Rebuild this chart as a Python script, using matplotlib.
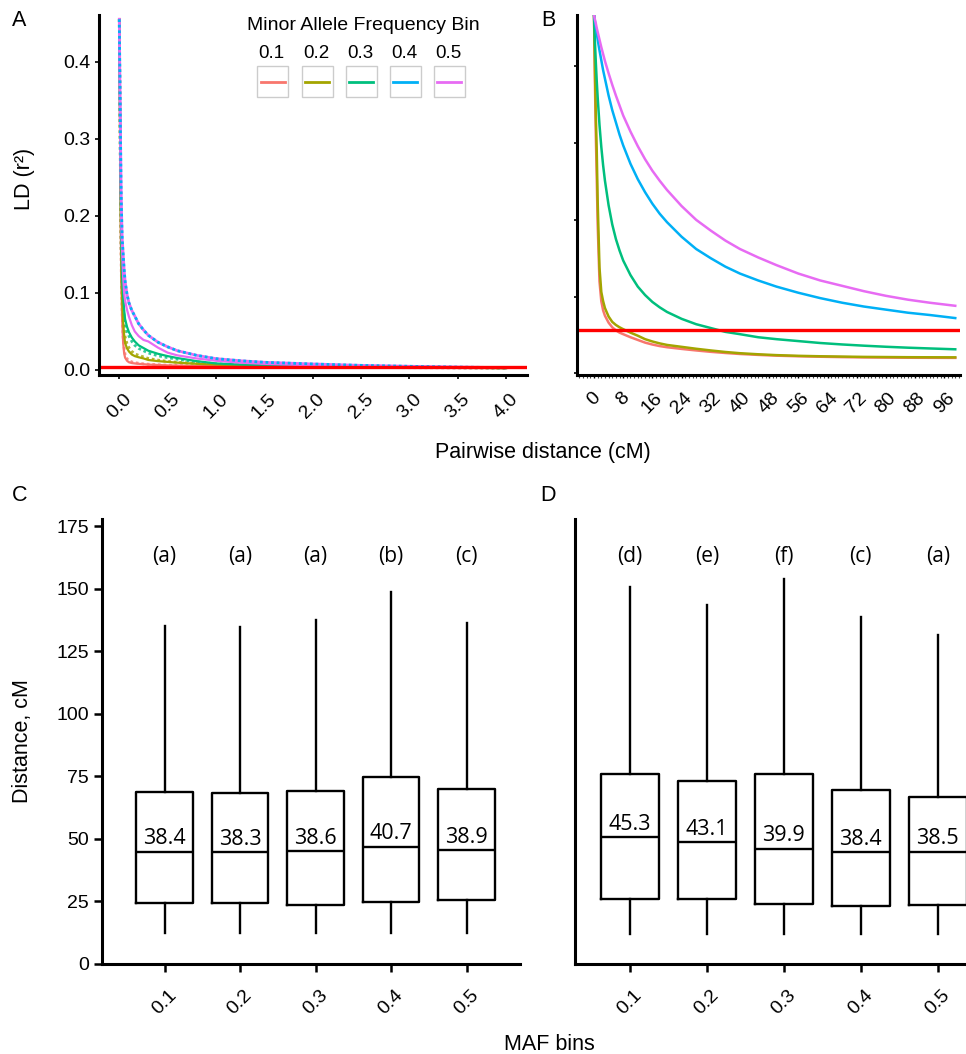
import matplotlib
matplotlib.use("Agg")
import matplotlib.pyplot as plt
from matplotlib.patches import Rectangle
from matplotlib.lines import Line2D
from matplotlib.ticker import MultipleLocator

plt.rcParams['font.family'] = ['Liberation Sans', 'DejaVu Sans']

maf_bins = ['0.1', '0.2', '0.3', '0.4', '0.5']
bin_colors = ['#F8766D', '#A3A500', '#00BF7D', '#00B0F6', '#E76BF3']

# ---- panel A: LD decay, 0-4 cM (solid = fitted, dotted = observed)
dist_a = [0, 0.01, 0.02, 0.03, 0.04, 0.05, 0.06, 0.08, 0.1, 0.13, 0.16, 0.2, 0.25,
          0.3, 0.4, 0.5, 0.6, 0.8, 1.0, 1.25, 1.5, 2.0, 2.5, 3.0, 3.5, 4.0]
fit_a_01 = [0.455, 0.26, 0.12, 0.065, 0.035, 0.022, 0.016, 0.012, 0.010, 0.009, 0.0085, 0.008, 0.0075,
            0.007, 0.0065, 0.006, 0.0057, 0.0052, 0.005, 0.0047, 0.0043, 0.0038, 0.0033, 0.003, 0.0027, 0.0025]
obs_a_01 = [0.455, 0.27, 0.13, 0.072, 0.042, 0.028, 0.02, 0.0145, 0.012, 0.0105, 0.0095, 0.0088, 0.008,
            0.0075, 0.0068, 0.0062, 0.0058, 0.0053, 0.005, 0.0047, 0.0043, 0.0038, 0.0033, 0.003, 0.0027, 0.0025]
fit_a_02 = [0.455, 0.28, 0.14, 0.09, 0.062, 0.045, 0.035, 0.028, 0.024, 0.02, 0.018, 0.0165, 0.015,
            0.013, 0.0115, 0.0105, 0.0095, 0.008, 0.007, 0.006, 0.0055, 0.0045, 0.004, 0.0035, 0.003, 0.0025]
obs_a_02 = [0.455, 0.29, 0.15, 0.1, 0.07, 0.052, 0.043, 0.034, 0.029, 0.024, 0.021, 0.019, 0.017,
            0.015, 0.0128, 0.0112, 0.01, 0.0085, 0.0073, 0.0063, 0.0057, 0.0047, 0.0041, 0.0036, 0.0031, 0.0027]
fit_a_03 = [0.455, 0.3, 0.17, 0.12, 0.095, 0.078, 0.066, 0.056, 0.049, 0.042, 0.037, 0.032, 0.0285,
            0.025, 0.021, 0.018, 0.0155, 0.0115, 0.0085, 0.007, 0.006, 0.005, 0.004, 0.0035, 0.003, 0.0025]
obs_a_03 = [0.455, 0.29, 0.16, 0.11, 0.085, 0.07, 0.06, 0.05, 0.044, 0.037, 0.032, 0.028, 0.025,
            0.022, 0.0185, 0.016, 0.014, 0.0105, 0.008, 0.0067, 0.0058, 0.0048, 0.0039, 0.0034, 0.0029, 0.0025]
fit_a_04 = [0.455, 0.33, 0.22, 0.17, 0.15, 0.13, 0.115, 0.098, 0.087, 0.077, 0.07, 0.06, 0.052,
            0.045, 0.036, 0.03, 0.025, 0.019, 0.0147, 0.012, 0.010, 0.0078, 0.006, 0.0048, 0.0038, 0.003]
fit_a_05 = [0.455, 0.32, 0.2, 0.15, 0.12, 0.1, 0.09, 0.078, 0.069, 0.058, 0.05, 0.044, 0.039,
            0.037, 0.029, 0.0225, 0.019, 0.015, 0.012, 0.0095, 0.008, 0.006, 0.005, 0.004, 0.0035, 0.003]
threshold_a = 0.004

# ---- panel B: LD decay, 0-100 cM
dist_b = [0, 0.25, 0.5, 0.75, 1, 1.5, 2, 2.5, 3, 4, 5, 6, 7, 8, 10, 12, 14, 16, 18, 20,
          24, 28, 32, 36, 40, 45, 50, 56, 62, 68, 74, 80, 86, 92, 99]
ld_b_01 = [0.467, 0.38, 0.31, 0.255, 0.195, 0.12, 0.094, 0.082, 0.075, 0.066, 0.06, 0.056, 0.053, 0.051,
           0.047, 0.0435, 0.04, 0.0375, 0.0355, 0.034, 0.0318, 0.0298, 0.028, 0.0265, 0.0252, 0.024,
           0.023, 0.0222, 0.0216, 0.0211, 0.0207, 0.0205, 0.0203, 0.0202, 0.0201]
ld_b_02 = [0.467, 0.40, 0.335, 0.29, 0.225, 0.138, 0.106, 0.094, 0.085, 0.074, 0.067, 0.063, 0.06, 0.0575,
           0.053, 0.049, 0.0445, 0.0415, 0.039, 0.037, 0.0345, 0.032, 0.0298, 0.0278, 0.0262, 0.0248,
           0.0237, 0.0228, 0.0222, 0.0218, 0.0214, 0.0212, 0.021, 0.0209, 0.0208]
ld_b_03 = [0.467, 0.432, 0.405, 0.381, 0.36, 0.324, 0.295, 0.271, 0.251, 0.219, 0.194, 0.175, 0.16, 0.147,
           0.128, 0.113, 0.102, 0.093, 0.086, 0.08, 0.071, 0.064, 0.059, 0.054, 0.051, 0.047,
           0.0445, 0.042, 0.0395, 0.0376, 0.036, 0.0346, 0.0334, 0.0324, 0.0313]
ld_b_04 = [0.467, 0.459, 0.451, 0.443, 0.435, 0.421, 0.408, 0.395, 0.384, 0.362, 0.343, 0.327, 0.311, 0.297,
           0.273, 0.253, 0.236, 0.221, 0.208, 0.197, 0.178, 0.162, 0.15, 0.139, 0.13, 0.121,
           0.113, 0.105, 0.098, 0.092, 0.087, 0.083, 0.079, 0.076, 0.072]
ld_b_05 = [0.467, 0.461, 0.456, 0.45, 0.445, 0.435, 0.425, 0.416, 0.407, 0.391, 0.376, 0.362, 0.349, 0.336,
           0.315, 0.296, 0.279, 0.264, 0.251, 0.239, 0.218, 0.2, 0.186, 0.173, 0.162, 0.151,
           0.141, 0.13, 0.121, 0.114, 0.107, 0.101, 0.096, 0.092, 0.088]
threshold_b = 0.057

# ---- panels C and D: distance to LD threshold per MAF bin
c_whislo = [12.2, 12.2, 12.2, 12.2, 12.2]
c_q1 = [24.4, 24.4, 23.5, 24.8, 25.5]
c_med = [44.9, 44.7, 45.0, 46.9, 45.4]
c_q3 = [68.8, 68.4, 69.2, 74.7, 69.9]
c_whishi = [135.1, 134.6, 137.4, 148.7, 136.4]
c_means = ['38.4', '38.3', '38.6', '40.7', '38.9']
c_groups = ['(a)', '(a)', '(a)', '(b)', '(c)']

d_whislo = [12.0, 12.0, 12.0, 12.0, 12.0]
d_q1 = [25.8, 25.9, 23.8, 23.2, 23.5]
d_med = [50.6, 48.7, 46.0, 44.6, 44.9]
d_q3 = [75.8, 73.2, 75.8, 69.6, 66.6]
d_whishi = [150.5, 143.6, 153.8, 138.7, 131.4]
d_means = ['45.3', '43.1', '39.9', '38.4', '38.5']
d_groups = ['(d)', '(e)', '(f)', '(c)', '(a)']

W, H = 966, 1054
fig = plt.figure(figsize=(W / 100, H / 100), dpi=100)


def px_axes(left, top, right, bottom):
    return fig.add_axes([left / W, 1 - bottom / H, (right - left) / W, (bottom - top) / H])


def style_axes(ax):
    for side in ['top', 'right']:
        ax.spines[side].set_visible(False)
    for side in ['left', 'bottom']:
        ax.spines[side].set_linewidth(2.2)
        ax.spines[side].set_color('black')


axA = px_axes(99, 15, 527, 375)
axB = px_axes(577, 15, 960, 375)
axC = px_axes(101.6, 518.8, 520, 964)
axD = px_axes(575, 518.8, 966, 964)

# panel A
fits_a = [fit_a_01, fit_a_02, fit_a_03, fit_a_05]
obs_a = [obs_a_01, obs_a_02, obs_a_03]
fit_cols = [bin_colors[0], bin_colors[1], bin_colors[2], bin_colors[4]]
for vals, col in zip(obs_a, bin_colors[:3]):
    axA.plot(dist_a, vals, color=col, lw=2, ls=(0, (1, 1)), alpha=0.8)
for vals, col in zip(fits_a, fit_cols):
    axA.plot(dist_a, vals, color=col, lw=1.6)
axA.plot(dist_a, fit_a_04, color=bin_colors[4], lw=2)
axA.plot(dist_a, fit_a_04, color=bin_colors[3], lw=2, ls=(0, (1, 1)))
axA.axhline(threshold_a, color='#FF0000', lw=2.4)
axA.set_xlim(-0.21, 4.217)
axA.set_ylim(-0.0065, 0.4605)
axA.set_yticks([0, 0.1, 0.2, 0.3, 0.4])
axA.set_yticklabels(['0.0', '0.1', '0.2', '0.3', '0.4'])
axA.set_xticks([0, 0.5, 1, 1.5, 2, 2.5, 3, 3.5, 4])
axA.set_xticklabels(['0.0', '0.5', '1.0', '1.5', '2.0', '2.5', '3.0', '3.5', '4.0'])
style_axes(axA)
axA.tick_params(axis='y', length=3, width=1.2, pad=3, labelsize=14)
axA.tick_params(axis='x', length=3, width=1.2, pad=8, labelsize=14, labelrotation=45)

# legend of panel A
axA.text(0.618, 0.972, 'Minor Allele Frequency Bin', transform=axA.transAxes,
         ha='center', va='center', fontsize=14)
key_x = [0.4035, 0.507, 0.610, 0.7126, 0.8154]
for kx, lab, col in zip(key_x, maf_bins, bin_colors):
    axA.text(kx, 0.894, lab, transform=axA.transAxes, ha='center', va='center', fontsize=13.5)
    axA.add_patch(Rectangle((kx + 0.003 - 0.0362, 0.815 - 0.043), 0.0724, 0.086,
                            transform=axA.transAxes, fill=False, edgecolor='#cccccc', lw=1))
    axA.add_line(Line2D([kx + 0.003 - 0.028, kx + 0.003 + 0.028], [0.815, 0.815],
                        transform=axA.transAxes, color=col, lw=2))

# panel B
for vals, col in zip([ld_b_01, ld_b_02, ld_b_03, ld_b_04, ld_b_05], bin_colors):
    axB.plot(dist_b, vals, color=col, lw=1.8)
axB.axhline(threshold_b, color='#FF0000', lw=2.4)
axB.set_xlim(-4.66, 100.3)
axB.set_ylim(-0.0022, 0.467)
axB.set_yticks([0, 0.1, 0.2, 0.3, 0.4])
axB.set_yticklabels([])
axB.set_xticks(range(0, 97, 8))
axB.xaxis.set_minor_locator(MultipleLocator(1))
style_axes(axB)
axB.tick_params(axis='y', length=2.5, width=1.2)
axB.tick_params(axis='x', length=2.5, width=1, pad=8, labelsize=14, labelrotation=45)
axB.tick_params(axis='x', which='minor', length=2, width=0.8, color='#444444')


# panels C and D
def draw_box(ax, whislo, q1, med, q3, whishi, means, groups):
    stats = []
    for i in range(len(maf_bins)):
        stats.append(dict(whislo=whislo[i], q1=q1[i], med=med[i], q3=q3[i],
                          whishi=whishi[i], label=maf_bins[i]))
    pos = list(range(1, len(maf_bins) + 1))
    ax.bxp(stats, positions=pos, widths=0.75, showfliers=False, showcaps=False,
           boxprops=dict(color='black', lw=1.7),
           whiskerprops=dict(color='black', lw=1.7),
           medianprops=dict(color='black', lw=1.7))
    for p, m, lab, grp in zip(pos, med, means, groups):
        ax.text(p, m + 3, lab, ha='center', va='baseline', fontsize=15.5,
                family=['Open Sans', 'DejaVu Sans'])
        ax.text(p, 162.8, grp, ha='center', va='center', fontsize=15,
                family=['Open Sans', 'DejaVu Sans'])
    ax.set_ylim(0, 177.9)
    ax.set_xticks(pos)
    ax.set_xticklabels(maf_bins)
    style_axes(ax)
    ax.tick_params(axis='x', length=6, width=1.8, pad=10, labelsize=14, labelrotation=45)


draw_box(axC, c_whislo, c_q1, c_med, c_q3, c_whishi, c_means, c_groups)
axC.set_xlim(0.166, 5.707)
axC.set_yticks([0, 25, 50, 75, 100, 125, 150, 175])
axC.tick_params(axis='y', length=6, width=1.8, pad=3, labelsize=14)

draw_box(axD, d_whislo, d_q1, d_med, d_q3, d_whishi, d_means, d_groups)
axD.set_xlim(0.285, 5.368)
axD.set_yticks([])

# shared labels
fig.text(24.5 / W, 1 - 179 / H, 'LD (r²)', rotation=90, ha='center', va='center', fontsize=15.5)
fig.text(22.4 / W, 1 - 740.7 / H, 'Distance, cM', rotation=90, ha='center', va='center', fontsize=15.5)
fig.text(543 / W, 1 - 458 / H, 'Pairwise distance (cM)', ha='center', va='baseline', fontsize=15.5)
fig.text(549 / W, 1 - 1050 / H, 'MAF bins', ha='center', va='baseline', fontsize=15.5)

for lab, x, y in [('A', 19.5, 20.5), ('B', 548, 20.5), ('C', 19.5, 495), ('D', 548, 495)]:
    fig.text(x / W, 1 - y / H, lab, ha='center', va='center', fontsize=15.5)

fig.savefig('out.png', dpi=100)
